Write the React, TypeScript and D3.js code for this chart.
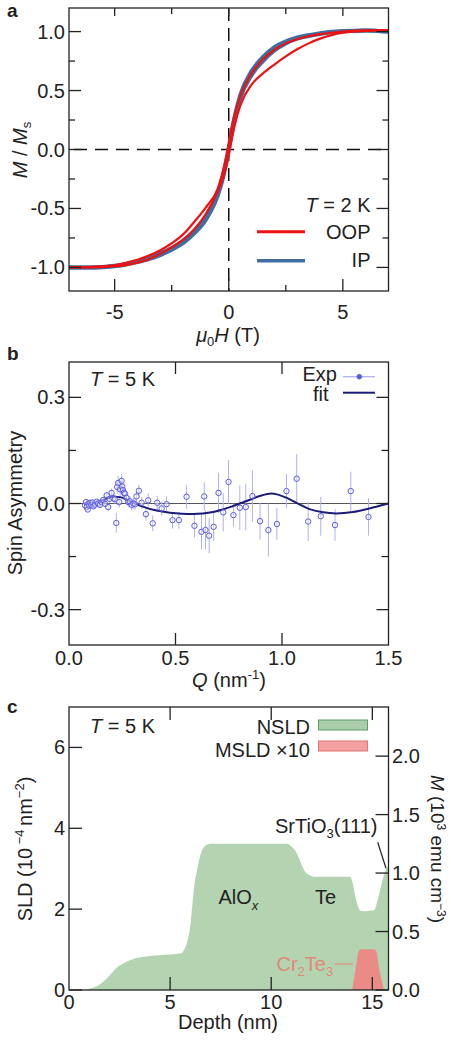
import React from 'react';
import * as d3 from 'd3';

const FONT = '"Liberation Sans", Arial, Helvetica, sans-serif';
const INK = '#222';

// ---- panel a: M/Ms vs mu0H ----
const fieldH = [-7, -6, -5, -4.5, -4, -3.5, -3, -2.5, -2, -1.5, -1, -0.5, -0.25, -0.1, 0, 0.1, 0.25, 0.5, 1, 1.5, 2, 2.5, 3, 3.5, 4, 4.5, 5, 6, 7];
const oopUpper = [-1.0, -0.995, -0.98, -0.96, -0.935, -0.9, -0.855, -0.795, -0.72, -0.61, -0.49, -0.34, -0.18, -0.06, 0.04, 0.16, 0.29, 0.45, 0.645, 0.765, 0.845, 0.9, 0.935, 0.96, 0.978, 0.99, 1.0, 1.01, 1.01];
const oopLower = [-1.0, -1.0, -0.99, -0.98, -0.96, -0.93, -0.885, -0.83, -0.765, -0.675, -0.545, -0.36, -0.24, -0.14, -0.04, 0.06, 0.2, 0.37, 0.55, 0.645, 0.72, 0.79, 0.85, 0.9, 0.94, 0.97, 0.99, 1.005, 1.01];
const ipUpper = [-1.0, -1.0, -0.985, -0.97, -0.948, -0.92, -0.88, -0.835, -0.775, -0.69, -0.57, -0.38, -0.22, -0.08, 0.02, 0.12, 0.27, 0.46, 0.665, 0.785, 0.868, 0.918, 0.95, 0.97, 0.985, 0.998, 1.005, 1.01, 1.0];
const ipLower = [-1.0, -1.0, -0.99, -0.975, -0.955, -0.93, -0.895, -0.85, -0.795, -0.71, -0.595, -0.4, -0.24, -0.1, -0.01, 0.1, 0.24, 0.43, 0.63, 0.75, 0.84, 0.9, 0.94, 0.963, 0.98, 0.995, 1.0, 1.01, 1.0];
const aTicksX = [-5, 0, 5];
const aMinorX = [-2.5, 2.5];
const aTicksY = [-1, -0.5, 0, 0.5, 1];
const aMinorY = [-0.75, -0.25, 0.25, 0.75];

// ---- panel b: spin asymmetry vs Q ----
const expQ = [0.075, 0.08, 0.083, 0.088, 0.092, 0.095, 0.1, 0.105, 0.11, 0.115, 0.122, 0.13, 0.137, 0.145, 0.153, 0.161, 0.169, 0.177, 0.184, 0.19, 0.2, 0.208, 0.215, 0.222, 0.226, 0.231, 0.236, 0.24, 0.247, 0.25, 0.253, 0.258, 0.263, 0.27, 0.278, 0.286, 0.294, 0.302, 0.31, 0.317, 0.328, 0.341, 0.361, 0.372, 0.393, 0.414, 0.435, 0.458, 0.486, 0.516, 0.552, 0.589, 0.622, 0.635, 0.641, 0.658, 0.679, 0.702, 0.724, 0.749, 0.772, 0.802, 0.83, 0.861, 0.897, 0.936, 0.976, 1.021, 1.069, 1.123, 1.182, 1.249, 1.323, 1.406];
const expSA = [-0.005, 0.004, -0.01, -0.017, 0.0, -0.006, 0.002, -0.004, 0.003, -0.008, -0.003, 0.005, 0.0, -0.004, 0.004, 0.01, -0.001, 0.023, -0.01, 0.013, 0.03, 0.015, 0.012, -0.055, 0.047, 0.058, 0.004, 0.04, 0.064, 0.048, 0.038, 0.03, 0.028, 0.016, 0.004, 0.006, -0.004, 0.0, -0.002, 0.02, 0.036, 0.002, -0.03, 0.009, -0.056, 0.002, -0.014, -0.002, -0.047, -0.047, 0.019, -0.063, -0.08, 0.02, -0.075, -0.091, -0.066, 0.03, -0.025, 0.061, -0.033, -0.012, -0.01, 0.021, -0.05, -0.075, -0.058, 0.035, 0.07, -0.051, -0.036, -0.061, 0.035, -0.038];
const expErr = [0.005, 0.005, 0.006, 0.006, 0.005, 0.006, 0.006, 0.006, 0.007, 0.007, 0.007, 0.007, 0.008, 0.008, 0.008, 0.009, 0.009, 0.01, 0.011, 0.011, 0.012, 0.012, 0.013, 0.028, 0.02, 0.02, 0.015, 0.018, 0.02, 0.018, 0.018, 0.015, 0.015, 0.015, 0.015, 0.015, 0.015, 0.015, 0.016, 0.016, 0.017, 0.017, 0.018, 0.02, 0.022, 0.02, 0.02, 0.022, 0.024, 0.024, 0.034, 0.033, 0.05, 0.04, 0.055, 0.05, 0.04, 0.057, 0.054, 0.062, 0.033, 0.063, 0.066, 0.073, 0.052, 0.075, 0.045, 0.048, 0.07, 0.055, 0.055, 0.045, 0.055, 0.053];
const fitQ = [0.07, 0.1, 0.145, 0.19, 0.215, 0.24, 0.286, 0.333, 0.411, 0.474, 0.53, 0.583, 0.677, 0.771, 0.834, 0.896, 0.951, 1.005, 1.068, 1.13, 1.193, 1.255, 1.333, 1.41, 1.5];
const fitSA = [-0.003, 0.0, 0.005, 0.017, 0.019, 0.018, 0.006, -0.006, -0.02, -0.026, -0.029, -0.03, -0.024, -0.007, 0.007, 0.021, 0.028, 0.02, 0.002, -0.016, -0.025, -0.028, -0.024, -0.014, 0.0];
const bTicksX = [0, 0.5, 1.0, 1.5];
const bTickLabelsX = ['0.0', '0.5', '1.0', '1.5'];
const bTicksY = [-0.3, 0, 0.3];
const bTickLabelsY = ['-0.3', '0.0', '0.3'];
const bMinorY = [-0.15, 0.15];

// ---- panel c: SLD depth profile ----
const depth = [0, 0.7, 1.0, 1.5, 2.0, 2.35, 2.7, 3.2, 4.0, 5.0, 5.5, 5.7, 5.9, 6.0, 6.1, 6.2, 6.35, 6.5, 6.7, 7.0, 10.8, 11.0, 11.28, 11.5, 11.78, 12.2, 13.9, 14.0, 14.17, 14.42, 14.6, 15.08, 15.3, 15.5, 15.75, 15.8];
const nsld = [0, 0, 0.03, 0.13, 0.35, 0.55, 0.66, 0.77, 0.84, 0.88, 0.9, 1.0, 1.3, 1.6, 2.1, 2.6, 3.0, 3.35, 3.55, 3.62, 3.62, 3.55, 3.37, 3.1, 2.87, 2.8, 2.8, 2.7, 2.29, 1.96, 1.95, 1.97, 2.3, 2.7, 3.04, 3.05];
const mDepth = [14.0, 14.15, 14.35, 14.5, 15.0, 15.18, 15.35, 15.58];
const msld = [0, 0.45, 0.98, 1.01, 1.01, 0.98, 0.5, 0];
const cTicksX = [0, 5, 10, 15];
const cTicksY = [0, 2, 4, 6];
const cTicksM = [0, 0.5, 1.0, 1.5, 2.0];
const cTickLabelsM = ['0.0', '0.5', '1.0', '1.5', '2.0'];

const X0 = 69, X1 = 388.5;

function Frame({ y0, y1 }: { y0: number; y1: number }) {
  return <rect x={X0} y={y0} width={X1 - X0} height={y1 - y0} fill="none" stroke={INK} strokeWidth={1.3} />;
}

function XTicks({ vals, sx, y0, y1, top, bottom }: any) {
  return (
    <g stroke={INK} strokeWidth={1.3}>
      {vals.map((v: number, i: number) => (
        <g key={i}>
          <line x1={sx(v)} x2={sx(v)} y1={y0} y2={y0 + top} />
          <line x1={sx(v)} x2={sx(v)} y1={y1} y2={y1 - bottom} />
        </g>
      ))}
    </g>
  );
}

function YTicks({ vals, sy, left, right }: any) {
  return (
    <g stroke={INK} strokeWidth={1.3}>
      {vals.map((v: number, i: number) => (
        <g key={i}>
          {left > 0 && <line x1={X0} x2={X0 + left} y1={sy(v)} y2={sy(v)} />}
          {right > 0 && <line x1={X1} x2={X1 - right} y1={sy(v)} y2={sy(v)} />}
        </g>
      ))}
    </g>
  );
}

export default function App() {
  // panel a
  const xA = d3.scaleLinear().domain([-7, 7]).range([X0, X1]);
  const yA = d3.scaleLinear().domain([-1.2, 1.2]).range([291, 8]);
  const lineA = (ys: number[]) =>
    d3.line<number>().x((_, i) => xA(fieldH[i])).y((d) => yA(d)).curve(d3.curveMonotoneX)(ys) || '';

  // panel b
  const xB = d3.scaleLinear().domain([0, 1.5]).range([X0, X1]);
  const yB = d3.scaleLinear().domain([-0.4, 0.4]).range([645, 362]);
  const fitPath = d3.line<number>().x((_, i) => xB(fitQ[i])).y((d) => yB(d)).curve(d3.curveMonotoneX)(fitSA) || '';

  // panel c
  const xC = d3.scaleLinear().domain([0, 15.8]).range([X0, X1]);
  const yC = d3.scaleLinear().domain([0, 7]).range([990, 707]);
  const yM = d3.scaleLinear().domain([0, 2.42]).range([990, 707]);
  const nArea = d3.area<number>().x((_, i) => xC(depth[i])).y0(yC(0)).y1((d) => yC(d)).curve(d3.curveMonotoneX)(nsld) || '';
  const mArea = d3.area<number>().x((_, i) => xC(mDepth[i])).y0(yC(0)).y1((d) => yC(d)).curve(d3.curveMonotoneX)(msld) || '';

  const fs = 20;
  const expColor = '#5b5be3';
  const errColor = '#b0b0f4';

  return (
    <svg width={451} height={1043} style={{ position: 'absolute', left: 0, top: 0, background: '#fff' }} fontFamily={FONT}>
      {/* ============ panel a ============ */}
      <text x={7} y={17} fontSize={19} fontWeight="bold" fill={INK}>a</text>
      <line x1={xA(0)} x2={xA(0)} y1={8} y2={291} stroke="#111" strokeWidth={1.5} strokeDasharray="13 7" />
      <line x1={X0} x2={X1} y1={yA(0)} y2={yA(0)} stroke="#111" strokeWidth={1.5} strokeDasharray="13 8" strokeDashoffset={-26} />
      <path d={lineA(ipUpper)} fill="none" stroke="#3f6f9f" strokeWidth={4} />
      <path d={lineA(ipLower)} fill="none" stroke="#3f6f9f" strokeWidth={4} />
      <path d={lineA(oopUpper)} fill="none" stroke="#ee1111" strokeWidth={2.2} />
      <path d={lineA(oopLower)} fill="none" stroke="#ee1111" strokeWidth={2.2} />
      <Frame y0={8} y1={291} />
      <XTicks vals={aTicksX} sx={xA} y0={8} y1={291} top={8} bottom={12} />
      <XTicks vals={aMinorX} sx={xA} y0={8} y1={291} top={6} bottom={6} />
      <YTicks vals={aTicksY} sy={yA} left={12} right={12} />
      <YTicks vals={aMinorY} sy={yA} left={6} right={6} />
      <g fontSize={fs} fill={INK}>
        {aTicksX.map((v) => (
          <text key={v} x={xA(v)} y={319} textAnchor="middle">{v < 0 ? `-${-v}` : v}</text>
        ))}
        {aTicksY.map((v) => (
          <text key={v} x={65} y={yA(v)} dy="0.35em" textAnchor="end">{v < 0 ? `-${(-v).toFixed(1)}` : v.toFixed(1)}</text>
        ))}
        <text x={228} y={342} textAnchor="middle">
          <tspan fontStyle="italic">μ</tspan>
          <tspan fontSize={13} dy={4}>0</tspan>
          <tspan fontStyle="italic" dy={-4}>H</tspan>
          <tspan> (T)</tspan>
        </text>
        <text transform="translate(26.5,150) rotate(-90)" textAnchor="middle">
          <tspan fontStyle="italic">M</tspan>
          <tspan> / </tspan>
          <tspan fontStyle="italic">M</tspan>
          <tspan fontSize={13} dy={4}>s</tspan>
        </text>
        <text x={370.5} y={212} textAnchor="end">
          <tspan fontStyle="italic">T</tspan> = 2 K
        </text>
        <text x={370.5} y={239} textAnchor="end">OOP</text>
        <text x={370.5} y={267} textAnchor="end">IP</text>
      </g>
      <line x1={257} x2={305} y1={231.7} y2={231.7} stroke="#ee1111" strokeWidth={3} />
      <line x1={257} x2={305} y1={260.7} y2={260.7} stroke="#3f6f9f" strokeWidth={3.5} />

      {/* ============ panel b ============ */}
      <text x={7} y={360} fontSize={19} fontWeight="bold" fill={INK}>b</text>
      <line x1={X0} x2={X1} y1={yB(0)} y2={yB(0)} stroke="#555" strokeWidth={1} />
      <g stroke={errColor} strokeWidth={1}>
        {expQ.map((q, i) => (
          <line key={i} x1={xB(q)} x2={xB(q)} y1={yB(expSA[i] - expErr[i])} y2={yB(expSA[i] + expErr[i])} />
        ))}
      </g>
      <path d={fitPath} fill="none" stroke="#1c1c78" strokeWidth={2} />
      <g stroke={expColor} strokeWidth={1} fill="rgba(255,255,255,0.35)">
        {expQ.map((q, i) => (
          <circle key={i} cx={xB(q)} cy={yB(expSA[i])} r={2.7} />
        ))}
      </g>
      <Frame y0={362} y1={645} />
      <XTicks vals={[0.5, 1.0]} sx={xB} y0={362} y1={645} top={12} bottom={12} />
      <YTicks vals={bTicksY} sy={yB} left={12} right={12} />
      <YTicks vals={bMinorY} sy={yB} left={7} right={7} />
      <g fontSize={fs} fill={INK}>
        {bTicksX.map((v, i) => (
          <text key={v} x={xB(v)} y={665} textAnchor="middle">{bTickLabelsX[i]}</text>
        ))}
        {bTicksY.map((v, i) => (
          <text key={v} x={65} y={yB(v)} dy="0.35em" textAnchor="end">{bTickLabelsY[i]}</text>
        ))}
        <text x={229} y={687} textAnchor="middle">
          <tspan fontStyle="italic">Q</tspan>
          <tspan> (nm</tspan>
          <tspan fontSize={13} dy={-8}>-1</tspan>
          <tspan dy={8}>)</tspan>
        </text>
        <text transform="translate(22,503) rotate(-90)" textAnchor="middle">Spin Asymmetry</text>
        <text x={90} y={385.5}>
          <tspan fontStyle="italic">T</tspan> = 5 K
        </text>
        <text x={337} y={381} textAnchor="end">Exp</text>
        <text x={328.5} y={401} textAnchor="end">fit</text>
      </g>
      <line x1={343} x2={375} y1={376.7} y2={376.7} stroke={errColor} strokeWidth={1.3} />
      <circle cx={359.3} cy={376.7} r={2.3} fill={expColor} stroke={expColor} />
      <line x1={343} x2={375} y1={392.7} y2={392.7} stroke="#1c1c78" strokeWidth={2} />

      {/* ============ panel c ============ */}
      <text x={7} y={713} fontSize={19} fontWeight="bold" fill={INK}>c</text>
      <path d={nArea} fill="#b4d4b1" />
      <path d={mArea} fill="#ea8b87" />
      <Frame y0={707} y1={990} />
      <XTicks vals={[5, 10, 15]} sx={xC} y0={707} y1={990} top={13} bottom={13} />
      <YTicks vals={cTicksY} sy={yC} left={13} right={0} />
      <YTicks vals={cTicksM} sy={yM} left={0} right={13} />
      <g fontSize={fs} fill={INK}>
        {cTicksX.map((v) => (
          <text key={v} x={xC(v)} y={1009} textAnchor="middle">{v}</text>
        ))}
        {cTicksY.map((v) => (
          <text key={v} x={65} y={yC(v)} dy="0.35em" textAnchor="end">{v}</text>
        ))}
        {cTicksM.map((v, i) => (
          <text key={v} x={392} y={yM(v)} dy="0.35em" textAnchor="start">{cTickLabelsM[i]}</text>
        ))}
        <text x={228} y={1029} textAnchor="middle">Depth (nm)</text>
        <text transform="translate(32,849) rotate(-90)" textAnchor="middle">
          <tspan>SLD (10</tspan>
          <tspan fontSize={13} dy={-8}> −4 </tspan>
          <tspan dy={8}>nm</tspan>
          <tspan fontSize={13} dy={-8}>−2</tspan>
          <tspan dy={8}>)</tspan>
        </text>
        <text transform="translate(431,849) rotate(90)" textAnchor="middle" fontSize={19}>
          <tspan fontStyle="italic">M</tspan>
          <tspan> (10</tspan>
          <tspan fontSize={12} dy={-6}>3</tspan>
          <tspan dy={6}> emu cm</tspan>
          <tspan fontSize={12} dy={-6}>−3</tspan>
          <tspan dy={6}>)</tspan>
        </text>
        <text x={90} y={733}>
          <tspan fontStyle="italic">T</tspan> = 5 K
        </text>
        <text x={310} y={734} textAnchor="end">NSLD</text>
        <text x={310} y={756.5} textAnchor="end">MSLD ×10</text>
        <text x={218.5} y={904}>
          AlO<tspan fontSize={13} fontStyle="italic" dy={6}>x</tspan>
        </text>
        <text x={315} y={904}>Te</text>
        <text x={275} y={833}>
          SrTiO<tspan fontSize={13} dy={5}>3</tspan><tspan dy={-5}>(111)</tspan>
        </text>
        <text x={276.5} y={970.5} fill="#e08878">
          Cr<tspan fontSize={13} dy={5}>2</tspan><tspan dy={-5}>Te</tspan><tspan fontSize={13} dy={5}>3</tspan>
        </text>
      </g>
      <rect x={318.5} y={720} width={49} height={10} fill="#a9cda9" stroke="#5f9a6c" strokeWidth={1} />
      <rect x={318.5} y={741} width={49} height={10} fill="#f4a0a0" stroke="#e07575" strokeWidth={1} />
      <line x1={377.7} y1={842.3} x2={386} y2={868.3} stroke={INK} strokeWidth={1.2} />
      <line x1={335} y1={964} x2={352.7} y2={964} stroke="#e08878" strokeWidth={1.2} />
    </svg>
  );
}
